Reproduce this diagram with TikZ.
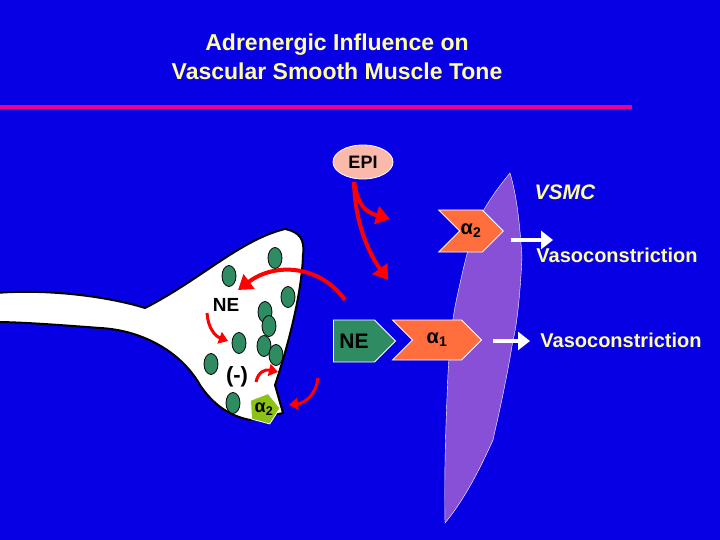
\documentclass[tikz,border=0pt]{standalone}
\usepackage{fontspec}
\setmainfont{Liberation Sans}
\usetikzlibrary{arrows.meta,shapes.arrows,shapes.symbols,shapes.geometric}
\definecolor{bgblue}{RGB}{8,0,228}
\definecolor{ttlyel}{RGB}{255,255,160}
\definecolor{vesgreen}{RGB}{46,139,98}
\definecolor{recorange}{RGB}{255,110,60}
\definecolor{epipink}{RGB}{250,185,170}
\definecolor{cellviolet}{RGB}{135,80,215}
\definecolor{lime}{RGB}{140,195,20}
\newcommand{\fsz}[1]{\fontsize{#1}{#1}\selectfont}
\tikzset{
  vesicle/.style={draw=black, thick, fill=vesgreen, ellipse, minimum width=14pt, minimum height=21pt, inner sep=0pt},
  redarr/.style={draw=red, line width=4pt, -{Triangle[length=14pt,width=18pt]}},
  smallarr/.style={draw=red, line width=3pt, -{Triangle[length=9pt,width=12pt]}},
  whitearr/.style={draw=white, line width=4pt, -{Triangle[length=12pt,width=18pt]}},
  recep/.style={draw=white, thick, fill=recorange, signal, signal to=east, signal from=west, font=\bfseries\fsz{20}},
  label/.style={text=ttlyel, font=\bfseries\fsz{20}}
}
\begin{document}
\begin{tikzpicture}[x=1pt,y=-1pt]
  \fill[bgblue] (0,0) rectangle (720,540);
  \useasboundingbox (0,0) rectangle (720,540);
  % title
  \node[text=ttlyel, font=\bfseries\fsz{23}, align=center] (title) at (337,57)
    {Adrenergic Influence on\\[6pt]Vascular Smooth Muscle Tone};
  \coordinate (barL) at (0,107);
  \coordinate (barR) at (632,107);
  \draw[magenta, line width=4pt] (barL) -- (barR);

  % nerve terminal
  \draw[black, line width=2pt, fill=white]
    (-5,293) .. controls (60,288) and (120,300) .. (145,308)
    .. controls (200,280) and (240,240) .. (285,229)
    .. controls (300,232) and (305,240) .. (303,255)
    .. controls (302,290) and (290,340) .. (275,385)
    -- (283,413) -- (250,420)
    .. controls (225,415) and (210,400) .. (200,385)
    .. controls (180,350) and (140,330) .. (100,328)
    .. controls (60,325) and (20,322) .. (-5,322) -- cycle;
  \foreach \px/\py [count=\i] in {229/276,275/258,288/297,265/312,269/326,
      239/343,264/346,276/355,211/364,233/403}
    \node[vesicle] (v\i) at (\px,\py) {};
  \node[font=\bfseries\fsz{19}] (neIn) at (226,305) {NE};
  \node[font=\bfseries\fsz{22}] (inhib) at (237,377) {(-)};
  \node[draw=white, thick, fill=lime, regular polygon, regular polygon sides=5,
    minimum size=32pt, inner sep=0pt, rotate=-15] (a2pre) at (264,409) {};
  \node[font=\bfseries\fsz{18}] at (a2pre) {α\textsubscript{2}};

  % smooth muscle cell
  \draw[white, fill=cellviolet]
    (510,173) .. controls (518,200) and (520,230) .. (522,257)
    .. controls (520,300) and (516,330) .. (513,340)
    .. controls (505,390) and (495,430) .. (493,440)
    .. controls (475,480) and (460,505) .. (445,523)
    .. controls (444,470) and (446,420) .. (448,373)
    .. controls (450,340) and (452,320) .. (457,297)
    .. controls (465,260) and (470,240) .. (477,223)
    .. controls (485,205) and (500,185) .. cycle;
  \node[text=ttlyel, font=\bfseries\itshape\fsz{21}] (vsmc) at (565,192) {VSMC};

  % agonists and receptors
  \node[draw=white, thick, fill=epipink, ellipse, minimum width=60pt,
    minimum height=34pt, inner sep=0pt, font=\bfseries\fsz{18}] (epi) at (363,162) {EPI};
  \node[recep, minimum width=57pt, minimum height=42pt, inner sep=1pt] (a2) at (471,231) {α\textsubscript{2}};
  \node[recep, minimum width=89pt, minimum height=40pt] (a1) at (437,340) {α\textsubscript{1}};
  \node[draw=white, thick, fill=vesgreen, signal, signal to=east, minimum width=62pt,
    minimum height=42pt, font=\bfseries\fsz{21}] (ne) at (354,341) {NE};

  % red arrows
  \coordinate (epiS) at (354,182);
  \coordinate (epiT1) at (390,219);
  \coordinate (epiT2) at (388,280);
  \draw[redarr] (epiS) .. controls (358,205) and (365,212) .. (epiT1);
  \draw[redarr] (epiS) .. controls (355,225) and (370,255) .. (epiT2);
  \coordinate (upS) at (345,300);
  \coordinate (upT) at (238,290);
  \draw[redarr] (upS) .. controls (320,265) and (275,262) .. (upT);
  \coordinate (relS) at (207,313);
  \coordinate (relT) at (228,341);
  \draw[smallarr] (relS) .. controls (208,328) and (215,336) .. (relT);
  \coordinate (fbS) at (256,382);
  \coordinate (fbT) at (278,372);
  \draw[smallarr] (fbS) .. controls (258,372) and (265,369) .. (fbT);
  \coordinate (negS) at (318,378);
  \coordinate (negT) at (289,405);
  \draw[smallarr] (negS) .. controls (316,395) and (305,403) .. (negT);

  % responses
  \node[label] (vc2) at (617,255) {Vasoconstriction};
  \node[label] (vc1) at (621,340) {Vasoconstriction};
  \coordinate (w2S) at (511,240);
  \coordinate (w2T) at (553,240);
  \coordinate (w1S) at (493,341);
  \coordinate (w1T) at (530,341);
  \draw[whitearr] (w2S) -- (w2T);
  \draw[whitearr] (w1S) -- (w1T);
\end{tikzpicture}
\end{document}
